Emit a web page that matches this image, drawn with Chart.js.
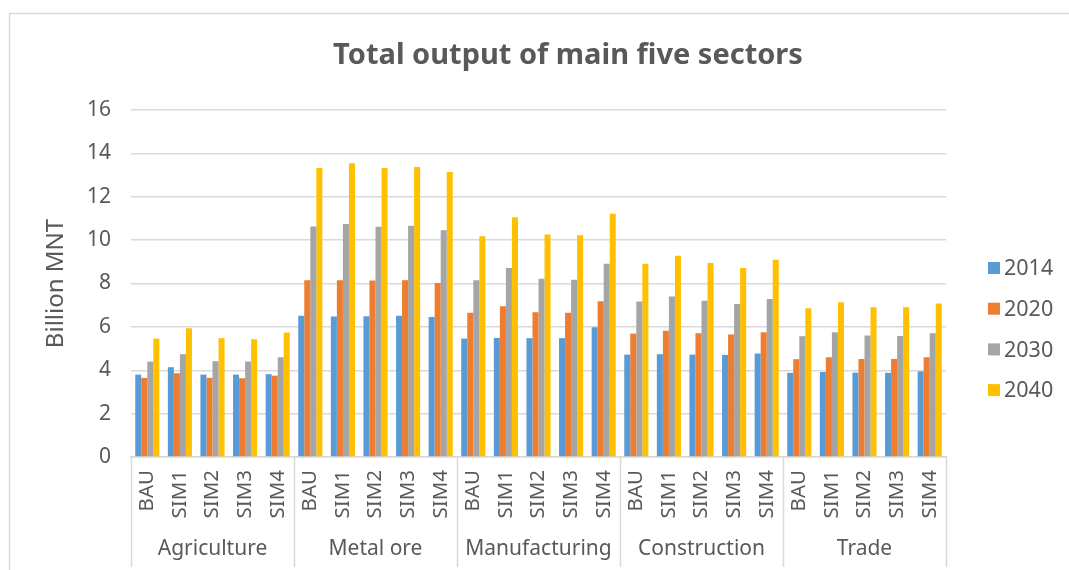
<!DOCTYPE html>
<html>
<head>
<meta charset="utf-8">
<script src="https://cdn.jsdelivr.net/npm/chart.js@4/dist/chart.umd.min.js"></script>
<style>
html,body{margin:0;padding:0;background:#fff;}
#wrap{position:relative;width:1069px;height:570px;}
</style>
</head>
<body>
<div id="wrap"><canvas id="c" width="1069" height="570"></canvas></div>
<script>
const sectors = ["Agriculture", "Metal ore", "Manufacturing", "Construction", "Trade"];
const scenarios = ["BAU", "SIM1", "SIM2", "SIM3", "SIM4"];
const seriesNames = ["2014", "2020", "2030", "2040"];
const chartTitle = "Total output of main five sectors";
const yTitle = "Billion MNT";

// values per category: Agriculture(BAU..SIM4), Metal ore(...), Manufacturing, Construction, Trade
const v2014 = [3.80, 4.14, 3.80, 3.80, 3.82,  6.51, 6.48, 6.49, 6.51, 6.45,  5.46, 5.49, 5.48, 5.48, 5.98,  4.72, 4.74, 4.72, 4.71, 4.77,  3.88, 3.92, 3.89, 3.88, 3.95];
const v2020 = [3.65, 3.86, 3.65, 3.63, 3.75,  8.15, 8.15, 8.14, 8.15, 8.02,  6.65, 6.95, 6.68, 6.65, 7.18,  5.69, 5.82, 5.71, 5.65, 5.75,  4.51, 4.60, 4.52, 4.52, 4.60];
const v2030 = [4.40, 4.74, 4.42, 4.40, 4.60, 10.63,10.74,10.62,10.66,10.45,  8.15, 8.72, 8.22, 8.17, 8.91,  7.17, 7.40, 7.20, 7.06, 7.28,  5.57, 5.75, 5.60, 5.58, 5.71];
const v2040 = [5.46, 5.94, 5.48, 5.43, 5.74, 13.32,13.55,13.32,13.37,13.14, 10.18,11.05,10.26,10.22,11.22,  8.91, 9.28, 8.95, 8.71, 9.09,  6.86, 7.14, 6.91, 6.91, 7.08];
const yTicks = [0, 2, 4, 6, 8, 10, 12, 14, 16];

const colors = ["#5B9BD5", "#ED7D31", "#A5A5A5", "#FFC000"];
const labels = [];
sectors.forEach(() => scenarios.forEach(s => labels.push(s)));
const allSeries = [v2014, v2020, v2030, v2040];

const FONT = "'Noto Sans', 'DejaVu Sans', sans-serif";
const TXT = "#595959";
const GRID = "#d9d9d9";

const deco = {
  id: 'deco',
  beforeDraw(chart) {
    const ctx = chart.ctx;
    ctx.save();
    ctx.fillStyle = '#fff';
    ctx.fillRect(0, 0, chart.width, chart.height);
    ctx.strokeStyle = GRID;
    ctx.lineWidth = 1.5;
    ctx.strokeRect(9.5, 13.5, 1200, 700);
    ctx.restore();
  },
  afterDraw(chart) {
    const ctx = chart.ctx;
    const xs = chart.scales.x;
    const area = chart.chartArea;
    ctx.save();
    // title
    ctx.fillStyle = TXT;
    ctx.font = "bold 29px " + FONT;
    ctx.textAlign = 'center';
    ctx.textBaseline = 'middle';
    ctx.fillText(chartTitle, 568, 56);
    // group separators and labels
    const n = labels.length;
    const step = (xs.right - xs.left) / n;
    ctx.strokeStyle = GRID;
    ctx.lineWidth = 1.5;
    for (let g = 0; g <= sectors.length; g++) {
      const x = Math.round(xs.left + g * scenarios.length * step) + 0.5;
      ctx.beginPath();
      ctx.moveTo(x, area.bottom);
      ctx.lineTo(x, 567);
      ctx.stroke();
    }
    ctx.font = "21px " + FONT;
    ctx.fillStyle = TXT;
    for (let g = 0; g < sectors.length; g++) {
      const cx = xs.left + (g + 0.5) * scenarios.length * step;
      ctx.fillText(sectors[g], cx, 549);
    }
    // legend
    ctx.textAlign = 'left';
    ctx.font = "21.5px " + FONT;
    chart.data.datasets.forEach((ds, i) => {
      const cy = 268 + i * 40.7;
      ctx.fillStyle = ds.backgroundColor;
      ctx.fillRect(988, cy - 6, 12, 12);
      ctx.fillStyle = TXT;
      ctx.fillText(ds.label, 1004, cy + 1);
    });
    ctx.restore();
  }
};

new Chart(document.getElementById('c'), {
  type: 'bar',
  data: {
    labels: labels,
    datasets: allSeries.map((vals, i) => ({
      label: seriesNames[i],
      data: vals,
      backgroundColor: colors[i],
      borderWidth: 0,
      categoryPercentage: 0.74,
      barPercentage: 1.0
    }))
  },
  options: {
    responsive: false,
    animation: false,
    devicePixelRatio: 1,
    layout: { padding: { left: 0, right: 123, top: 110, bottom: 0 } },
    plugins: {
      legend: { display: false },
      title: { display: false },
      tooltip: { enabled: false }
    },
    scales: {
      x: {
        grid: { display: true, drawOnChartArea: false, drawTicks: false, color: 'rgba(0,0,0,0)' },
        border: { display: true, color: GRID, width: 1.5 },
        ticks: {
          autoSkip: false,
          minRotation: 90,
          maxRotation: 90,
          padding: 13,
          color: TXT,
          font: { family: FONT, size: 20.5 }
        },
        afterFit(scale) { scale.height = 113; }
      },
      y: {
        min: 0,
        max: 16,
        afterBuildTicks(scale) { scale.ticks = yTicks.map(v => ({ value: v })); },
        grid: { color: GRID, lineWidth: 1.5, drawTicks: false },
        border: { display: false },
        ticks: {
          padding: 20,
          color: TXT,
          font: { family: FONT, size: 21 }
        },
        title: {
          display: true,
          text: yTitle,
          color: TXT,
          font: { family: FONT, size: 24 },
          padding: { top: 42, bottom: 0 }
        },
        afterFit(scale) { scale.width = 131; }
      }
    }
  },
  plugins: [deco]
});
</script>
</body>
</html>
